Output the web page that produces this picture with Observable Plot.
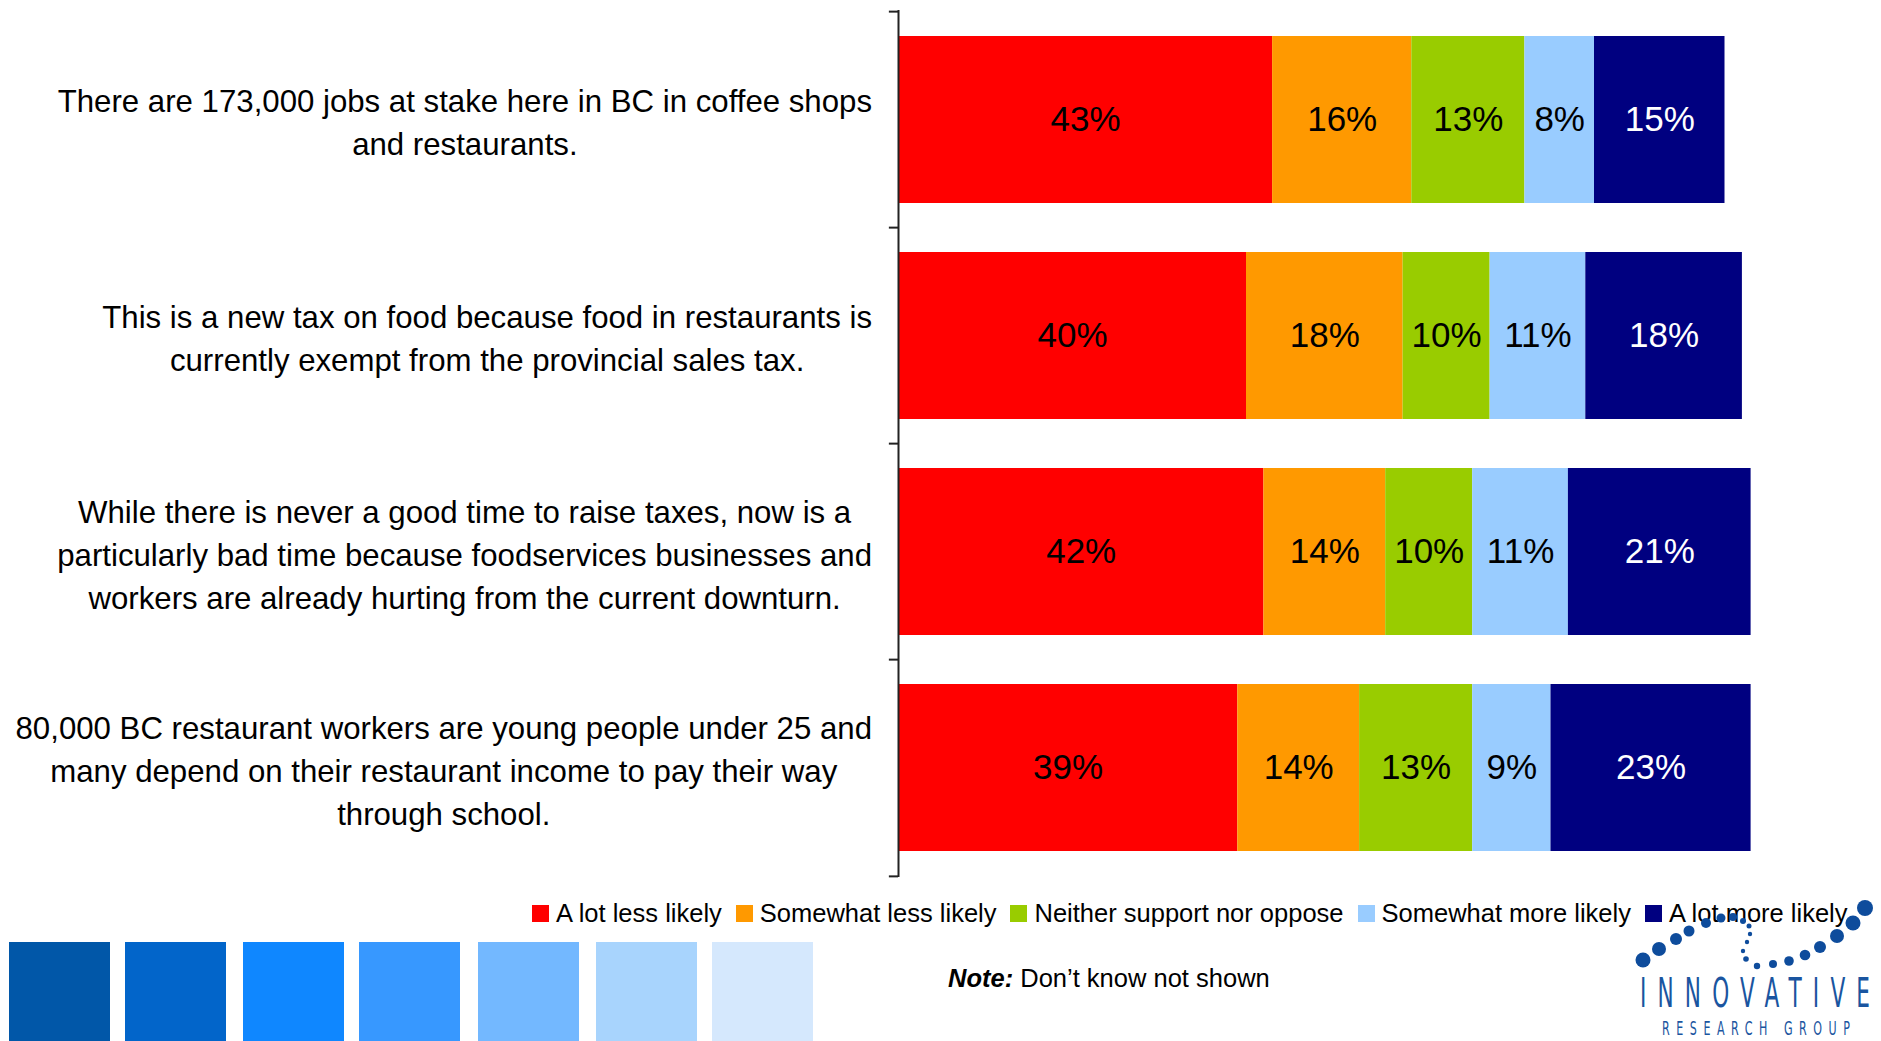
<!DOCTYPE html>
<html>
<head>
<meta charset="utf-8">
<script src="https://cdn.jsdelivr.net/npm/d3@7"></script>
<script src="https://cdn.jsdelivr.net/npm/@observablehq/plot@0.6"></script>
<style>
  html, body { margin: 0; padding: 0; background: #fff; }
  #wrap { position: relative; width: 1881px; height: 1041px; overflow: hidden; background: #fff; font-family: "Liberation Sans", Arial, sans-serif; }
  #chart { position: absolute; left: 0; top: 0; }
  #legend { position: absolute; left: 532px; top: 897px; }
  #legend .lg-swatch { margin-right: 14px !important; }
  #legend .lg-swatch > svg { margin-right: 7px !important; }
  #note { position: absolute; left: 948px; top: 963px; font-size: 25.5px; line-height: 30px; color: #000; white-space: nowrap; }
  .deco { position: absolute; top: 942px; width: 101px; height: 99px; }
  #logo { position: absolute; left: 0; top: 0; }
</style>
</head>
<body>
<div id="wrap">
  <div id="chart"></div>
  <div id="legend"></div>
  <div id="note"><b><i>Note:</i></b> Don’t know not shown</div>
</div>
<script>
// ---- Data ----
const categories = [
  "There are 173,000 jobs at stake here in BC in coffee shops\nand restaurants.",
  "This is a new tax on food because food in restaurants is\ncurrently exempt from the provincial sales tax.",
  "While there is never a good time to raise taxes, now is a\nparticularly bad time because foodservices businesses and\nworkers are already hurting from the current downturn.",
  "80,000 BC restaurant workers are young people under 25 and\nmany depend on their restaurant income to pay their way\nthrough school."
];
const series = ["A lot less likely", "Somewhat less likely", "Neither support nor oppose", "Somewhat more likely", "A lot more likely"];
const aLotLess     = [43, 40, 42, 39];
const somewhatLess = [16, 18, 14, 14];
const neither      = [13, 10, 10, 13];
const somewhatMore = [8, 11, 11, 9];
const aLotMore     = [15, 18, 21, 23];
const seriesColors = ["#FF0000", "#FF9900", "#99CC00", "#99CCFF", "#000080"];
const decoColors = ["#0157A8", "#0265CA", "#0F87FF", "#3798FF", "#73B8FF", "#A8D4FD", "#D5E8FD"];

const seriesValues = [aLotLess, somewhatLess, neither, somewhatMore, aLotMore];
const table = [];
series.forEach((s, si) => {
  categories.forEach((c, ci) => {
    table.push({series: s, category: c, value: seriesValues[si][ci]});
  });
});
const lastSeries = series[series.length - 1];

const step = (877 - 10) / categories.length;

const chart = Plot.plot({
  width: 1881,
  height: 890,
  marginLeft: 898,
  marginRight: 113,
  marginTop: 10,
  marginBottom: 13,
  style: {fontFamily: "'Liberation Sans', Arial, sans-serif", background: "transparent"},
  x: {domain: [0, 100], axis: null},
  y: {domain: categories, axis: null, paddingInner: 0.225, paddingOuter: 0.1125},
  color: {domain: series, range: seriesColors},
  marks: [
    Plot.barX(table, Plot.stackX({x: "value", y: "category", fill: "series", inset: 0})),
    Plot.text(table, Plot.stackX({
      x: "value", y: "category", z: "series",
      text: d => d.series !== lastSeries ? `${d.value}%` : null,
      fill: "#000", fontSize: 35
    })),
    Plot.text(table, Plot.stackX({
      x: "value", y: "category", z: "series",
      text: d => d.series === lastSeries ? `${d.value}%` : null,
      fill: "#fff", fontSize: 35
    })),
    Plot.ruleX([0], {stroke: "#222", strokeWidth: 2}),
    Plot.ruleY(categories, {y: d => d, x1: -1.05, x2: 0, dy: -step / 2, stroke: "#222", strokeWidth: 2}),
    Plot.ruleY(categories.slice(-1), {y: d => d, x1: -1.05, x2: 0, dy: step / 2, stroke: "#222", strokeWidth: 2}),
    Plot.text(categories, {
      x: 0, y: d => d, text: d => d, textAnchor: "middle", dx: -420,
      fontSize: 31.2, lineHeight: 1.38, fill: "#000", className: "ylab"
    })
  ]
});
document.getElementById("chart").appendChild(chart);

// Legend through Plot's color scale
const legend = chart.legend("color", {
  legend: "swatches",
  swatchSize: 17,
  className: "lg",
  style: {fontSize: "25.5px", fontFamily: "'Liberation Sans', Arial, sans-serif", color: "#000"}
});
document.getElementById("legend").appendChild(legend);

// Align category labels: widest line right-aligned near the axis, lines centred
const svgRect = chart.getBoundingClientRect();
chart.querySelectorAll(".ylab text").forEach(t => {
  const r = t.getBoundingClientRect();
  const shift = 872 - (r.right - svgRect.left);
  const old = t.getAttribute("transform") || "";
  t.setAttribute("transform", `translate(${shift},0) ${old}`);
});

// Decorative blue squares
const wrap = document.getElementById("wrap");
const decoLeft = [9, 125, 243, 359, 478, 596, 712];
decoColors.forEach((c, i) => {
  const d = document.createElement("div");
  d.className = "deco";
  d.style.left = decoLeft[i] + "px";
  d.style.background = c;
  wrap.appendChild(d);
});

// Logo
const logoDots = [
  [1643,960,7.5],[1659,949,7],[1676,939,6],[1689,931,5.5],[1706,923,5],[1721,918,4.5],[1733,917,4],
  [1743,921,3],[1749,926,2.5],[1750,934,2.2],[1747,942,2.2],[1743,951,2.2],[1746,959,2.8],
  [1757,966,3.2],[1773,964,4],[1789,961,4.8],[1805,955,5.3],[1820,947,6],[1837,936,7],[1853,923,7.5],[1865,908,8]
];
const ns = "http://www.w3.org/2000/svg";
const logo = document.createElementNS(ns, "svg");
logo.setAttribute("id", "logo");
logo.setAttribute("width", 1881);
logo.setAttribute("height", 1041);
logo.style.pointerEvents = "none";
logoDots.forEach(([cx, cy, r]) => {
  const c = document.createElementNS(ns, "circle");
  c.setAttribute("cx", cx); c.setAttribute("cy", cy); c.setAttribute("r", r);
  c.setAttribute("fill", "#0E4C9C");
  logo.appendChild(c);
});
function logoText(str, x, y, size, len, sx) {
  const t = document.createElementNS(ns, "text");
  t.setAttribute("x", 0); t.setAttribute("y", 0);
  t.setAttribute("transform", `translate(${x},${y}) scale(${sx},1)`);
  t.setAttribute("font-size", size);
  t.setAttribute("font-family", "'DejaVu Sans Condensed', 'Liberation Sans Narrow', sans-serif");
  t.setAttribute("textLength", len / sx);
  t.setAttribute("lengthAdjust", "spacing");
  t.setAttribute("fill", "#1A55A0");
  t.textContent = str;
  logo.appendChild(t);
}
logoText("INNOVATIVE", 1640, 1007, 40, 230, 0.6);
logoText("RESEARCH GROUP", 1662, 1035, 19, 188, 0.65);
wrap.appendChild(logo);
</script>
</body>
</html>
